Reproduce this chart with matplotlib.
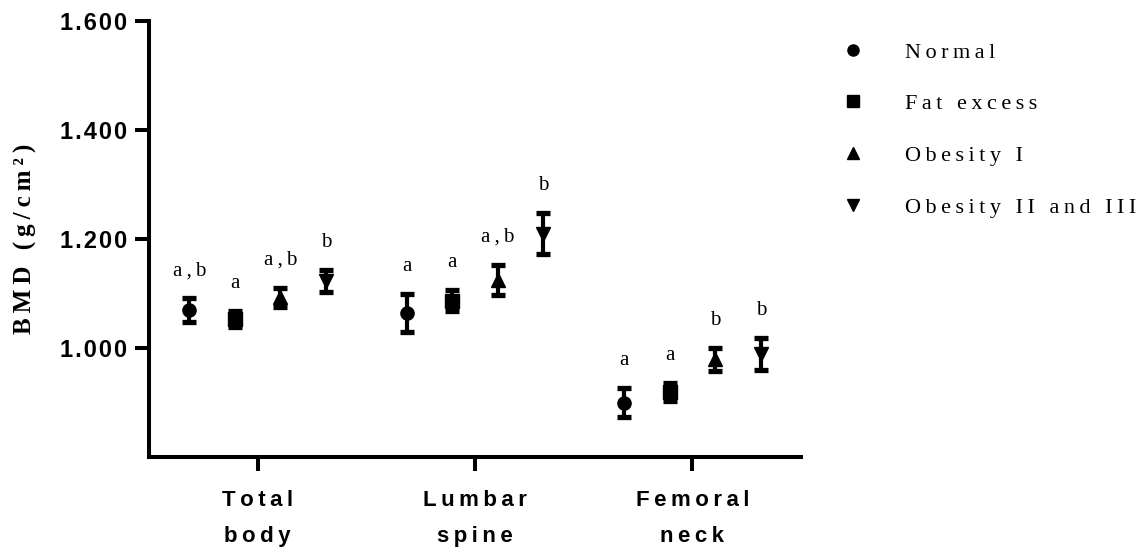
import matplotlib
matplotlib.use('Agg')
import matplotlib.pyplot as plt
from matplotlib.lines import Line2D
import numpy as np

# ---------------- data ----------------
categories = ['Total\nbody', 'Lumbar\nspine', 'Femoral\nneck']
groups = ['Normal', 'Fat excess', 'Obesity I', 'Obesity II and III']

normal_mean = [1.069, 1.064, 0.900]
normal_err = [0.022, 0.035, 0.027]
fat_mean = [1.053, 1.087, 0.919]
fat_err = [0.014, 0.019, 0.016]
ob1_mean = [1.093, 1.125, 0.979]
ob1_err = [0.018, 0.027, 0.021]
ob23_mean = [1.123, 1.210, 0.989]
ob23_err = [0.020, 0.038, 0.029]

normal_sig = ['a,b', 'a', 'a']
fat_sig = ['a', 'a', 'a']
ob1_sig = ['a,b', 'a,b', 'b']
ob23_sig = ['b', 'b', 'b']

yticks = [1.0, 1.2, 1.4, 1.6]
ytick_labels = ['1.000', '1.200', '1.400', '1.600']
y_label = 'BMD (g/cm²)'

# ---------------- style ----------------
SANS = ['Liberation Sans', 'DejaVu Sans']
SERIF = ['Liberation Serif', 'DejaVu Serif']


def track(s, sp='\u2009'):
    return '\n'.join(sp.join(line) for line in s.split('\n'))


means = [normal_mean, fat_mean, ob1_mean, ob23_mean]
errs = [normal_err, fat_err, ob1_err, ob23_err]
sigs = [normal_sig, fat_sig, ob1_sig, ob23_sig]
markers = ['o', 's', '^', 'v']
offsets = [-0.315, -0.105, 0.105, 0.315]

fig = plt.figure(figsize=(11.45, 5.52), dpi=100)
ax = fig.add_axes([149 / 1145, 1 - 457 / 552, (801 - 149) / 1145, (457 - 21) / 552])

x = np.arange(1, len(categories) + 1)
for m, e, s, mk, off in zip(means, errs, sigs, markers, offsets):
    xs = x + off
    ax.errorbar(xs, m, yerr=e, fmt=mk, color='black', markersize=9.5,
                elinewidth=3.0, capsize=5, capthick=3.8, zorder=3)
    for xi, mi, ei, si in zip(xs, m, e, s):
        ax.annotate(track(si, '\u2009'), (xi, mi + ei), xytext=(0, 20),
                    textcoords='offset points', ha='center', va='center',
                    fontsize=15, family=SERIF)

ax.set_xlim(0.5, 3.5)
ax.set_ylim(0.8, 1.6)
ax.set_yticks(yticks)
ax.set_yticklabels([track(t, '\u200a') for t in ytick_labels],
                   fontsize=17, fontweight='bold', family=SANS)
ax.set_xticks(x)
ax.set_xticklabels([track(c) for c in categories], fontsize=16,
                   fontweight='bold', family=SANS, linespacing=1.9)
for sp in ['top', 'right']:
    ax.spines[sp].set_visible(False)
for sp in ['left', 'bottom']:
    ax.spines[sp].set_linewidth(2.9)
ax.tick_params(axis='both', length=10, width=2.9, pad=6)
ax.tick_params(axis='x', pad=14)

ax.set_ylabel(track(y_label, '\u2009'), fontsize=18, fontweight='bold',
              family=SERIF)
ax.yaxis.set_label_coords(-0.172, 0.5)

handles = [Line2D([], [], marker=mk, color='black', linestyle='none',
                  markersize=8) for mk in markers]
fig.legend(handles, [track(g, '\u2009') for g in groups], loc='upper left',
           bbox_to_anchor=(816 / 1145, 1 - 22 / 552), frameon=False,
           prop={'family': SERIF, 'size': 16}, labelspacing=1.4,
           handletextpad=1.6, handlelength=1.5)

fig.savefig('out.png', dpi=100)
